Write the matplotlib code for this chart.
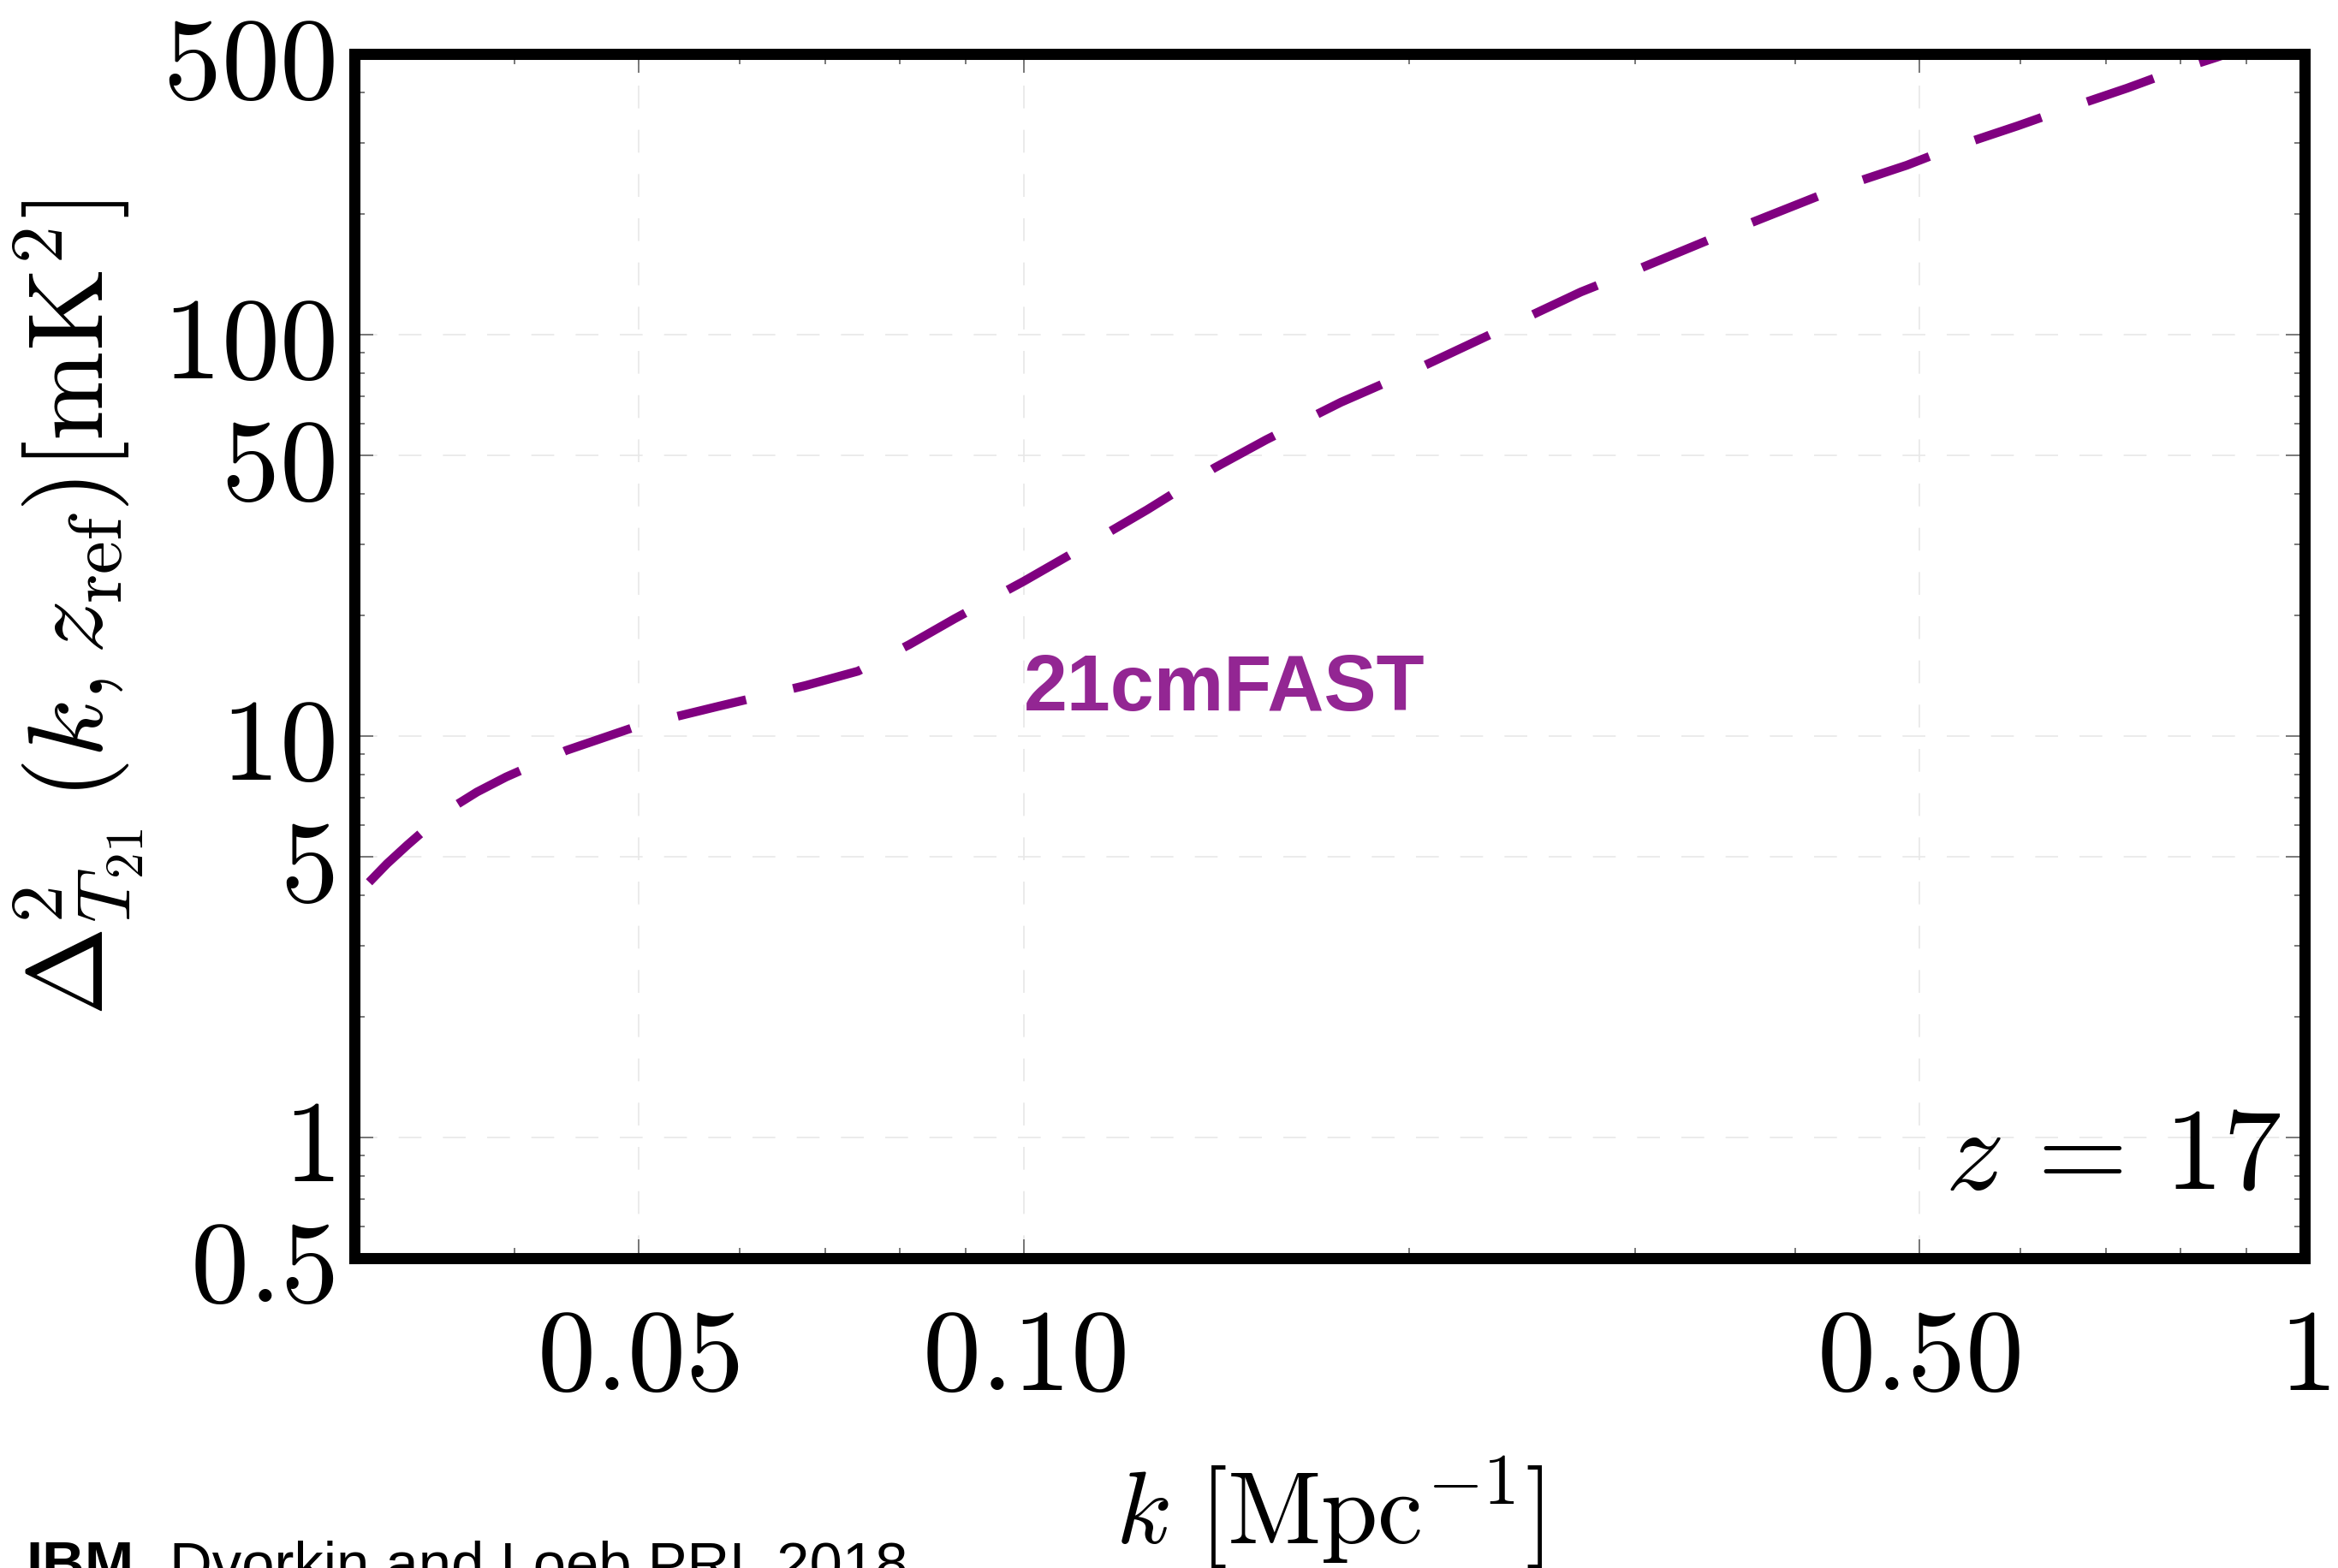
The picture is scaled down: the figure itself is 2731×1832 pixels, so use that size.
import matplotlib
matplotlib.use('Agg')
import matplotlib.pyplot as plt
import numpy as np
from matplotlib.ticker import FixedLocator, FixedFormatter, LogLocator, NullFormatter

plt.rcParams['mathtext.fontset'] = 'cm'

# 21cmFAST power spectrum, z = 17
k_vals = [0.0308, 0.0318, 0.0330, 0.0354, 0.0374, 0.0394, 0.0439, 0.050, 0.0574,
          0.0675, 0.0742, 0.0814, 0.0883, 0.100, 0.1124, 0.1248, 0.1408, 0.1546,
          0.1768, 0.2023, 0.2444, 0.2721, 0.3031, 0.356, 0.4355, 0.489, 0.530,
          0.597, 0.648, 0.727, 0.790, 0.853, 1.0]
delta2 = [4.32, 4.80, 5.35, 6.50, 7.25, 7.90, 9.20, 10.6, 11.8,
          13.35, 14.5, 16.9, 19.6, 24.3, 30.1, 36.6, 46.5, 54.7,
          67.8, 81.8, 108.6, 127.6, 146.4, 181.0, 233.6, 264.0, 291.6,
          331.0, 363.0, 411.0, 453.0, 490.0, 584.0]

xticks = [0.05, 0.1, 0.5, 1]
xticklabels = [r'$0.05$', r'$0.10$', r'$0.50$', r'$1$']
yticks = [0.5, 1, 5, 10, 50, 100, 500]
yticklabels = [r'$0.5$', r'$1$', r'$5$', r'$10$', r'$50$', r'$100$', r'$500$']

fig = plt.figure(figsize=(13.655, 9.16), dpi=200)
ax = fig.add_axes([0.1516, 0.1976, 0.8341, 0.768])

ax.plot(k_vals, delta2, color='purple', lw=3.7, dashes=(8, 5.5),
        dash_capstyle='butt', zorder=3)

ax.set_xscale('log')
ax.set_yscale('log')
ax.set_xlim(0.03, 1)
ax.set_ylim(0.5, 500)

ax.xaxis.set_major_locator(FixedLocator(xticks))
ax.xaxis.set_major_formatter(FixedFormatter(xticklabels))
ax.xaxis.set_minor_locator(LogLocator(base=10, subs=np.arange(2, 10), numticks=20))
ax.xaxis.set_minor_formatter(NullFormatter())
ax.yaxis.set_major_locator(FixedLocator(yticks))
ax.yaxis.set_major_formatter(FixedFormatter(yticklabels))
ax.yaxis.set_minor_locator(LogLocator(base=10, subs=np.arange(2, 10), numticks=20))
ax.yaxis.set_minor_formatter(NullFormatter())

ax.set_axisbelow(True)
ax.grid(True, which='major', color='#e8e8e8', lw=0.6, linestyle=(0, (16, 15)))

for s in ax.spines.values():
    s.set_linewidth(4.7)
    s.set_zorder(5)

ax.tick_params(which='both', direction='in', top=True, right=True,
               color='#555555', width=0.55)
ax.tick_params(which='major', length=7.9)
ax.tick_params(which='minor', length=4.3)
ax.tick_params(axis='x', which='major', labelsize=49, pad=18.5)
ax.tick_params(axis='y', which='major', labelsize=49, pad=8.5)

ax.set_xlabel(r'$k\ [{\rm Mpc}^{-1}]$', fontsize=43)
ax.xaxis.set_label_coords(0.5, -0.1635)
ax.set_ylabel(r'$\Delta^2_{T_{21}}\,(k, z_{\rm ref})[{\rm mK}^2]$', fontsize=45)
ax.yaxis.set_label_coords(-0.1071, 0.540)

ax.text(0.1, 11.6, '21cmFAST', color='purple', alpha=0.85, fontsize=33,
        fontweight='bold', family='Liberation Sans', ha='left', va='baseline')
ax.text(0.988, 0.058, r'$z\,=\,17$', transform=ax.transAxes, fontsize=49,
        ha='right', va='baseline')

fig.text(0.011, -0.0093, 'IBM', fontsize=24.8, fontweight='bold',
         family='Liberation Sans', va='baseline')
fig.text(0.0725, -0.0093, 'Dvorkin and Loeb PRL 2018', fontsize=24.8,
         family='Liberation Sans', va='baseline')

fig.savefig('out.png', dpi=200)
